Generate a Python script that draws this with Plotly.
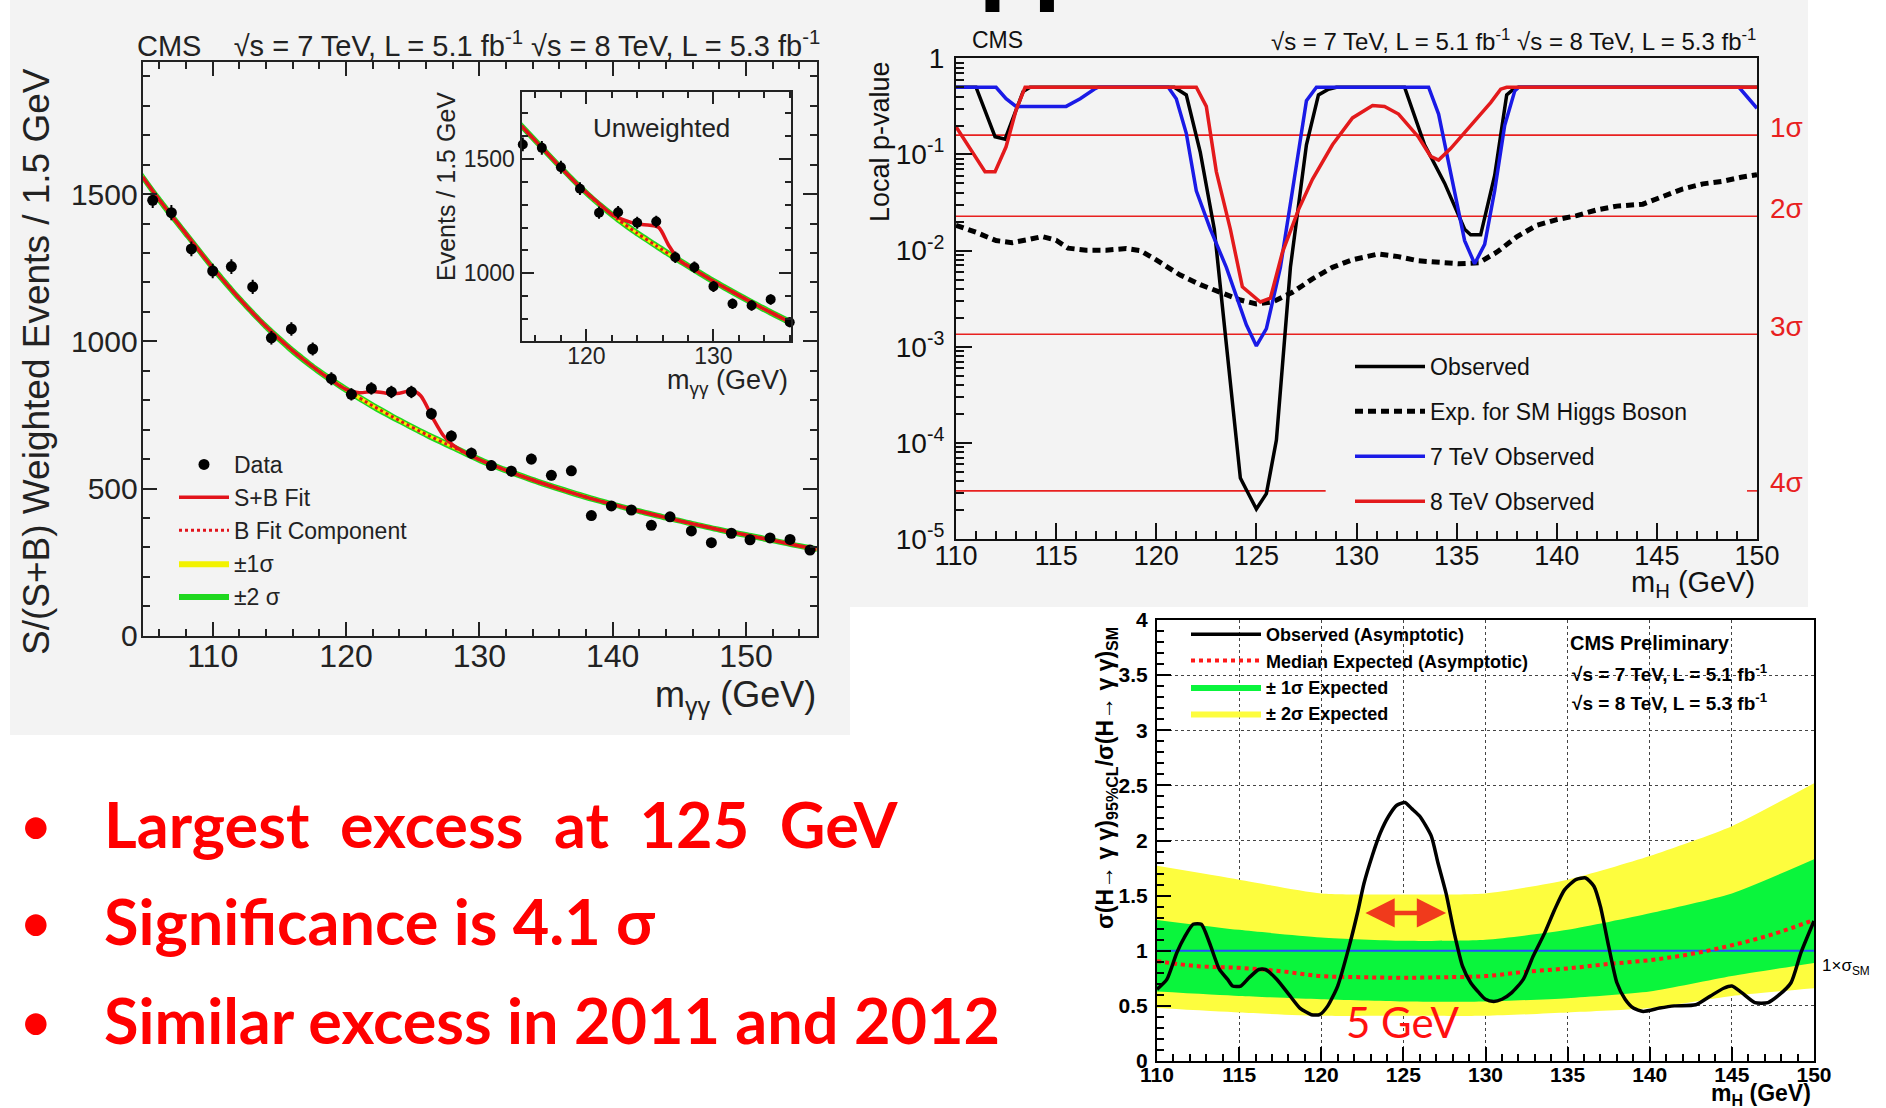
import math
import plotly.graph_objects as go

W, H = 1886, 1108
def fx(v): return v / W
def fy(v): return 1 - v / H

SANS = "Liberation Sans, Arial, Helvetica, sans-serif"
SLIDE = "Lato, Calibri, sans-serif"

# ---------------- Panel A: S/(S+B) weighted diphoton mass ----------------
mass_w = [105.5, 106.9, 108.4, 110.0, 111.4, 113.0, 114.4, 115.9, 117.5, 118.9, 120.4, 121.9,
          123.4, 124.9, 126.4, 127.9, 129.4, 130.9, 132.4, 133.9, 135.4, 136.9, 138.4, 139.9,
          141.4, 142.9, 144.3, 145.9, 147.4, 148.9, 150.3, 151.8, 153.3, 154.8]
events_w = [1479, 1437, 1314, 1239, 1254, 1185, 1012, 1042, 974, 873, 820, 840,
            828, 828, 754, 678, 620, 578, 559, 600, 545, 560, 408, 441,
            427, 375, 404, 356, 316, 348, 326, 332, 327, 291]
events_w_err = [26, 26, 25, 25, 25, 24, 23, 23, 22, 22, 21, 21, 21, 21, 20, 19, 19,
                18, 18, 18, 17, 17, 16, 16, 16, 15, 15, 15, 14, 14, 14, 14, 14, 13]
fit_b_mass = [104.75, 106, 108, 110, 112, 114, 116, 118, 120, 122, 124, 126, 128, 130,
              132, 134, 136, 138, 140, 142, 144, 146, 148, 150, 152, 154, 155.3]
fit_b = [1558, 1480, 1365, 1250, 1145, 1050, 968, 897, 836, 781, 731, 684, 641, 598,
         562, 529, 499, 471, 446, 423, 401, 380, 360, 342, 324, 305, 294]
fit_b_err1 = [8, 8, 8, 8, 7, 7, 7, 7, 7, 7, 6, 6, 6, 6, 6, 6, 6, 6, 5, 5, 5, 5, 5, 5, 5, 5, 5]
fit_b_err2 = [16, 16, 15, 15, 14, 14, 14, 13, 13, 13, 12, 12, 12, 12, 11, 11, 11, 11, 10, 10,
              10, 10, 10, 10, 10, 10, 10]
fit_sb_mass = [104.75, 106, 108, 110, 112, 114, 116, 118, 120, 121, 122, 123, 124, 125, 125.6,
               126.5, 127.3, 128, 129, 130, 132, 134, 136, 138, 140, 142, 144, 146, 148, 150,
               152, 154, 155.3]
fit_sb = [1558, 1480, 1365, 1250, 1145, 1050, 968, 897, 837, 825, 830, 824, 824, 833, 815,
          740, 680, 648, 620, 598, 562, 529, 499, 471, 446, 423, 401, 380, 360, 342,
          324, 305, 294]

# ---------------- Panel A inset: unweighted ----------------
mass_u = [115, 116.5, 118, 119.5, 121, 122.5, 124, 125.5, 127, 128.5, 130, 131.5, 133, 134.5, 136]
events_u = [1564, 1549, 1464, 1370, 1265, 1267, 1221, 1226, 1070, 1026, 942, 866, 858, 885, 785]
events_u_err = [30, 30, 29, 28, 27, 27, 26, 26, 25, 25, 24, 23, 23, 23, 22]
fit_bu_mass = [114.9, 116.5, 118, 119.5, 121, 122.5, 124, 125.5, 127, 128.5, 130, 131.5, 133, 134.5, 136.1]
fit_bu = [1645, 1550, 1462, 1378, 1302, 1235, 1175, 1120, 1066, 1015, 965, 918, 872, 828, 783]
fit_bu_err1 = [9, 9, 9, 8, 8, 8, 8, 8, 8, 8, 8, 8, 8, 8, 8]
fit_bu_err2 = [18, 18, 17, 17, 16, 16, 16, 16, 16, 16, 16, 16, 16, 16, 16]
fit_sbu_mass = [114.9, 116.5, 118, 119.5, 121, 122, 123, 124, 125, 125.7, 126.5, 127.3, 128.5,
                130, 131.5, 133, 134.5, 136.1]
fit_sbu = [1645, 1550, 1462, 1378, 1305, 1258, 1232, 1215, 1210, 1200, 1120, 1058, 1015,
           965, 918, 872, 828, 783]

# ---------------- Panel B: local p-value ----------------
mh_range = [110, 150]
obs_mh = [110, 111.0, 111.95, 112.45, 113.35, 113.7, 120.9, 121.5, 122.2, 122.9, 123.5, 124.2,
          124.5, 125.0, 125.5, 126.0, 126.7, 127.5, 128.1, 128.6, 129.0, 132.4, 133.4, 134.4,
          135.4, 135.7, 136.2, 136.9, 137.5, 137.9, 138.1, 150]
obs_p = [0.5, 0.5, 0.153, 0.144, 0.45, 0.5, 0.5, 0.416, 0.105, 0.0167, 1.06e-3, 4.3e-5,
         3.25e-5, 2.05e-5, 2.96e-5, 1.07e-4, 6.7e-3, 0.126, 0.416, 0.477, 0.5, 0.5, 0.126, 0.0503,
         0.0167, 0.0146, 0.0146, 0.0605, 0.416, 0.49, 0.5, 0.5]
exp_mh = [110, 111, 112, 112.8, 113.6, 114.3, 115.0, 115.6, 116.5, 117.5, 118.5, 119.2, 120.0,
          121.2, 122.2, 123.2, 124.2, 125.0, 125.8, 126.8, 127.8, 128.8, 129.8, 131.1, 132.1,
          133.1, 134.1, 135.1, 136.1, 137.0, 138.0, 139.0, 140.0, 141.0, 142.0, 143.0, 144.3,
          145.3, 146.3, 147.3, 148.3, 149.2, 150]
exp_p = [0.0183, 0.0155, 0.0127, 0.0121, 0.0130, 0.0140, 0.0128, 0.0106, 0.0101, 0.0101, 0.0105,
         0.0100, 0.0080, 0.00556, 0.00442, 0.00368, 0.00306, 0.00279, 0.00292, 0.00368, 0.00507,
         0.0067, 0.00803, 0.00922, 0.00865, 0.00782, 0.00746, 0.0073, 0.00746, 0.0096, 0.0139,
         0.0183, 0.021, 0.0231, 0.0265, 0.029, 0.0304, 0.0365, 0.0439, 0.0494, 0.0527, 0.0578,
         0.0617]
obs7_mh = [110, 112.0, 112.5, 113.0, 115.5, 116.2, 116.9, 117.1, 120.6, 121.0, 121.5, 122.0,
           122.7, 123.5, 124.5, 125.0, 125.5, 126.2, 126.8, 127.5, 128.0, 133.6, 134.1, 134.7,
           135.4, 135.9, 136.4, 136.9, 137.4, 137.9, 138.1, 149.1, 150]
obs7_p = [0.5, 0.5, 0.38, 0.316, 0.316, 0.38, 0.477, 0.5, 0.5, 0.38, 0.166, 0.0419, 0.0167,
          6.7e-3, 1.69e-3, 1.02e-3, 1.54e-3, 6.7e-3, 0.0419, 0.362, 0.5, 0.5, 0.263, 0.0664,
          0.0127, 7.3e-3, 0.0116, 0.0419, 0.2, 0.456, 0.5, 0.5, 0.302]
obs8_mh = [110, 111.45, 111.95, 112.5, 113.0, 113.45, 122.0, 122.5, 123.0, 123.7, 124.3, 125.2,
           125.7, 126.3, 127.1, 127.8, 128.8, 129.8, 130.8, 131.4, 132.1, 133.1, 133.7, 134.1,
           134.7, 135.7, 136.7, 137.2, 137.5, 150]
obs8_p = [0.194, 0.066, 0.066, 0.12, 0.29, 0.5, 0.5, 0.316, 0.0664, 0.0167, 4.2e-3, 2.92e-3,
          3.2e-3, 9.6e-3, 0.0265, 0.0552, 0.126, 0.24, 0.322, 0.316, 0.263, 0.151, 0.0957,
          0.0873, 0.115, 0.2, 0.346, 0.477, 0.5, 0.5]
sigma_p = [0.1587, 0.02275, 0.00135, 3.167e-5]
sigma_names = ["1σ", "2σ", "3σ", "4σ"]
sigma4_gap = [128.46, 149.5]

# ---------------- Panel C: 95% CL limit ----------------
lim_mh = [110, 110.6, 111.2, 111.7, 112.2, 112.7, 113.2, 113.8, 114.3, 114.6, 115.1, 115.6,
          116.2, 116.6, 117.3, 118.1, 118.7, 119.4, 119.9, 120.4, 121.0, 121.7, 122.2, 122.6,
          123.1, 123.6, 124.1, 124.6, 125.1, 125.5, 126.0, 126.7, 127.1, 127.6, 128.1, 128.6,
          129.1, 129.6, 130.0, 130.5, 131.0, 131.6, 132.3, 132.9, 133.6, 134.2, 134.8, 135.5,
          136.1, 136.6, 137.0, 137.5, 138.0, 138.5, 139.0, 139.6, 140.6, 141.5, 142.8, 143.7,
          144.5, 145.0, 145.6, 146.4, 147.2, 147.8, 148.6, 149.2, 150]
lim_obs = [0.65, 0.74, 0.98, 1.13, 1.24, 1.24, 1.07, 0.83, 0.74, 0.68, 0.68, 0.755,
           0.83, 0.83, 0.74, 0.59, 0.48, 0.42, 0.42, 0.50, 0.68, 1.04, 1.34, 1.61,
           1.86, 2.07, 2.22, 2.32, 2.345, 2.29, 2.22, 2.04, 1.80, 1.52, 1.16, 0.86,
           0.71, 0.62, 0.56, 0.54, 0.56, 0.62, 0.74, 0.95, 1.16, 1.37, 1.55, 1.645,
           1.66, 1.585, 1.40, 1.04, 0.71, 0.56, 0.48, 0.45, 0.48, 0.50, 0.51, 0.59,
           0.66, 0.68, 0.62, 0.53, 0.53, 0.59, 0.71, 0.98, 1.27]
lim_exp_mh = [110, 112.5, 115, 117.5, 120, 122.5, 125, 127.5, 130, 132.5, 135, 137.5, 140,
              142.5, 145, 147.5, 150]
lim_exp = [0.905, 0.86, 0.845, 0.815, 0.77, 0.76, 0.755, 0.76, 0.77, 0.81, 0.84, 0.88, 0.915,
           0.97, 1.05, 1.15, 1.28]
band_mh = [110, 115, 120, 125, 130, 135, 140, 145, 150]
band1_hi = [1.28, 1.19, 1.12, 1.09, 1.10, 1.19, 1.34, 1.52, 1.83]
band1_lo = [0.63, 0.59, 0.56, 0.54, 0.54, 0.57, 0.63, 0.77, 0.89]
band2_hi = [1.77, 1.645, 1.52, 1.51, 1.52, 1.645, 1.86, 2.13, 2.52]
band2_lo = [0.48, 0.44, 0.41, 0.41, 0.41, 0.44, 0.48, 0.59, 0.66]
sm_ref = 1.0
fwhm_arrow = [122.6, 127.6]
fwhm_level = 1.343
fwhm_label = [125.0, 0.357]

bullets = ["Largest\u00a0 excess\u00a0 at\u00a0 125\u00a0 GeV",
           "Significance is 4.1 σ",
           "Similar excess in 2011 and 2012"]

fig = go.Figure()

def add_band(x, lo, hi, color, name, legend, rank, xa, ya, show=True, smooth=0.6, group=None):
    fig.add_trace(go.Scatter(x=x, y=lo, mode="lines", line=dict(width=0, shape="spline", smoothing=smooth),
                             showlegend=False, hoverinfo="skip", xaxis=xa, yaxis=ya))
    fig.add_trace(go.Scatter(x=x, y=hi, mode="lines", line=dict(width=0, shape="spline", smoothing=smooth),
                             fill="tonexty", fillcolor=color, name=name, legend=legend, legendrank=rank,
                             legendgroup=group, showlegend=show, hoverinfo="skip", xaxis=xa, yaxis=ya))

def pm(center, err, s):
    return [c + s * e for c, e in zip(center, err)]

GREEN_A, YELLOW_A, RED_A = "#1fd81f", "#f2f200", "#e2131b"

# ---- Panel A traces ----
add_band(fit_b_mass, pm(fit_b, fit_b_err2, -1), pm(fit_b, fit_b_err2, 1), GREEN_A, "±2 σ", "legend", 5, "x", "y")
add_band(fit_b_mass, pm(fit_b, fit_b_err1, -1), pm(fit_b, fit_b_err1, 1), YELLOW_A, "±1σ", "legend", 4, "x", "y")
fig.add_trace(go.Scatter(x=fit_b_mass, y=fit_b, mode="lines", name="B Fit Component",
                         line=dict(color=RED_A, width=3, dash="dot", shape="spline", smoothing=0.6),
                         legend="legend", legendrank=3, xaxis="x", yaxis="y"))
fig.add_trace(go.Scatter(x=fit_sb_mass, y=fit_sb, mode="lines", name="S+B Fit",
                         line=dict(color=RED_A, width=3.5, shape="spline", smoothing=0.8),
                         legend="legend", legendrank=2, xaxis="x", yaxis="y"))
fig.add_trace(go.Scatter(x=mass_w, y=events_w, mode="markers", name="Data",
                         marker=dict(color="black", size=11),
                         error_y=dict(type="data", array=events_w_err, color="black", thickness=2, width=0),
                         legend="legend", legendrank=1, cliponaxis=False, xaxis="x", yaxis="y"))

# ---- Inset traces ----
add_band(fit_bu_mass, pm(fit_bu, fit_bu_err2, -1), pm(fit_bu, fit_bu_err2, 1), GREEN_A, "", "legend", 9, "x2", "y2", show=False)
add_band(fit_bu_mass, pm(fit_bu, fit_bu_err1, -1), pm(fit_bu, fit_bu_err1, 1), YELLOW_A, "", "legend", 9, "x2", "y2", show=False)
fig.add_trace(go.Scatter(x=fit_bu_mass, y=fit_bu, mode="lines", showlegend=False,
                         line=dict(color=RED_A, width=3, dash="dot", shape="spline", smoothing=0.6),
                         xaxis="x2", yaxis="y2"))
fig.add_trace(go.Scatter(x=fit_sbu_mass, y=fit_sbu, mode="lines", showlegend=False,
                         line=dict(color=RED_A, width=3.5, shape="spline", smoothing=0.8),
                         xaxis="x2", yaxis="y2"))
fig.add_trace(go.Scatter(x=mass_u, y=events_u, mode="markers", showlegend=False,
                         marker=dict(color="black", size=10),
                         error_y=dict(type="data", array=events_u_err, color="black", thickness=2, width=0),
                         cliponaxis=False, xaxis="x2", yaxis="y2"))

# ---- Panel B traces ----
SIG_RED = "#e8201f"
for p in sigma_p[:3]:
    fig.add_trace(go.Scatter(x=mh_range, y=[p, p], mode="lines", showlegend=False,
                             line=dict(color=SIG_RED, width=1.6), xaxis="x3", yaxis="y3"))
p4 = sigma_p[3]
fig.add_trace(go.Scatter(x=[mh_range[0], sigma4_gap[0], None, sigma4_gap[1], mh_range[1]],
                         y=[p4, p4, None, p4, p4], mode="lines", showlegend=False,
                         line=dict(color=SIG_RED, width=1.6), xaxis="x3", yaxis="y3"))
fig.add_trace(go.Scatter(x=exp_mh, y=exp_p, mode="lines", name="Exp. for SM Higgs Boson",
                         line=dict(color="black", width=5, dash="8px,5px"),
                         legend="legend2", legendgroup="e", legendrank=2, xaxis="x3", yaxis="y3"))
fig.add_trace(go.Scatter(x=obs_mh, y=obs_p, mode="lines", name="Observed",
                         line=dict(color="black", width=3.5),
                         legend="legend2", legendgroup="o", legendrank=1, xaxis="x3", yaxis="y3"))
fig.add_trace(go.Scatter(x=obs7_mh, y=obs7_p, mode="lines", name="7 TeV Observed",
                         line=dict(color="#1a1ae6", width=3.5),
                         legend="legend2", legendgroup="b", legendrank=3, xaxis="x3", yaxis="y3"))
fig.add_trace(go.Scatter(x=obs8_mh, y=obs8_p, mode="lines", name="8 TeV Observed",
                         line=dict(color="#e31a1c", width=3.5),
                         legend="legend2", legendgroup="r", legendrank=4, xaxis="x3", yaxis="y3"))

# ---- Panel C traces ----
add_band(band_mh, band2_lo, band2_hi, "#fdfd3e", "± 2σ Expected", "legend3", 4, "x4", "y4", group="g2")
add_band(band_mh, band1_lo, band1_hi, "#0af53c", "± 1σ Expected", "legend3", 3, "x4", "y4", group="g1")
fig.add_trace(go.Scatter(x=mh_range, y=[sm_ref, sm_ref], mode="lines", showlegend=False,
                         line=dict(color="#2250ff", width=2), xaxis="x4", yaxis="y4"))
fig.add_trace(go.Scatter(x=lim_exp_mh, y=lim_exp, mode="lines", name="Median Expected (Asymptotic)",
                         line=dict(color="#ff1a1a", width=4, dash="dot", shape="spline"),
                         legend="legend3", legendgroup="m", legendrank=2, xaxis="x4", yaxis="y4"))
fig.add_trace(go.Scatter(x=lim_mh, y=lim_obs, mode="lines", name="Observed (Asymptotic)",
                         line=dict(color="black", width=3.5, shape="spline", smoothing=0.6),
                         legend="legend3", legendgroup="ob", legendrank=1, xaxis="x4", yaxis="y4"))

# ---------------- axes ----------------
def frame_axis(**kw):
    base = dict(showgrid=False, zeroline=False, showline=True, ticks="inside", automargin=False,
                linecolor="#222", tickcolor="#222", linewidth=2, tickwidth=2)
    base.update(kw)
    return base

tickA = dict(family=SANS, size=32, color="#222")
tickAy = dict(family=SANS, size=30, color="#222")
tickI = dict(family=SANS, size=23, color="#222")
tickB = dict(family=SANS, size=27, color="#111")
tickC = dict(family=SANS, size=21, color="black", weight="bold")

log_minor = [m * 10 ** e for e in range(-5, 0) for m in range(2, 10)]

fig.update_layout(
    xaxis=frame_axis(domain=[fx(142.7), fx(816.7)], range=[104.75, 155.3], anchor="y",
                     tick0=110, dtick=10, ticklen=14, mirror="ticks", tickfont=tickA, ticklabelstandoff=-9,
                     minor=dict(ticks="inside", ticklen=7, tickwidth=1.5, tickcolor="#222", dtick=2, tick0=110)),
    yaxis=frame_axis(domain=[fy(635.7), fy(61.7)], range=[0, 1950], anchor="x",
                     tick0=0, dtick=500, ticklen=14, mirror="ticks", tickfont=tickAy, ticklabelstandoff=-3,
                     minor=dict(ticks="inside", ticklen=7, tickwidth=1.5, tickcolor="#222", dtick=100, tick0=0)),
    xaxis2=frame_axis(domain=[fx(521.5), fx(791)], range=[114.9, 136.1], anchor="y2",
                      tick0=120, dtick=10, ticklen=12, mirror="ticks", tickfont=tickI, ticklabelstandoff=-6,
                      minor=dict(ticks="inside", ticklen=6, tickwidth=1.5, tickcolor="#222", dtick=2, tick0=120)),
    yaxis2=frame_axis(domain=[fy(340.5), fy(91.7)], range=[705, 1795], anchor="x2",
                      tick0=0, dtick=500, ticklen=12, mirror="ticks", tickfont=tickI, ticklabelstandoff=0,
                      minor=dict(ticks="inside", ticklen=6, tickwidth=1.5, tickcolor="#222", dtick=100, tick0=0)),
    xaxis3=frame_axis(domain=[fx(956), fx(1757)], range=mh_range, anchor="y3",
                      tick0=110, dtick=5, ticklen=16, mirror=True, tickfont=tickB, linecolor="#111", tickcolor="#111",
                      ticklabelstandoff=-8,
                      minor=dict(ticks="inside", ticklen=8, tickwidth=1.5, tickcolor="#111", dtick=1, tick0=110)),
    yaxis3=frame_axis(domain=[fy(539), fy(58.3)], type="log", range=[-5, 0], anchor="x3",
                      tickmode="array", tickvals=[1e-5, 1e-4, 1e-3, 1e-2, 1e-1, 1],
                      ticktext=["10<sup>-5</sup>", "10<sup>-4</sup>", "10<sup>-3</sup>", "10<sup>-2</sup>",
                                "10<sup>-1</sup>", "1"],
                      ticklen=16, mirror=True, tickfont=dict(family=SANS, size=28, color="#111"),
                      ticklabelstandoff=4, linecolor="#111", tickcolor="#111",
                      minor=dict(ticks="inside", ticklen=8, tickwidth=1.5, tickcolor="#111", tickvals=log_minor)),
    xaxis4=frame_axis(domain=[fx(1157), fx(1814)], range=mh_range, anchor="y4",
                      tick0=110, dtick=5, ticklen=14, mirror=True, tickfont=tickC, linecolor="black", tickcolor="black",
                      showgrid=True, gridcolor="#444", griddash="dot", gridwidth=1, ticklabelstandoff=-6,
                      minor=dict(ticks="inside", ticklen=7, tickwidth=1.5, tickcolor="black", dtick=1, tick0=110)),
    yaxis4=frame_axis(domain=[fy(1061), fy(620)], range=[0, 4], anchor="x4",
                      tick0=0, dtick=0.5, ticklen=14, mirror=True, tickfont=tickC, ticklabelstandoff=3,
                      linecolor="black", tickcolor="black",
                      showgrid=True, gridcolor="#444", griddash="dot", gridwidth=1,
                      minor=dict(ticks="inside", ticklen=7, tickwidth=1.5, tickcolor="black", dtick=0.1, tick0=0)),
)

fig.update_layout(
    legend=dict(x=fx(174), y=fy(443), xanchor="left", yanchor="top", bgcolor="rgba(0,0,0,0)",
                font=dict(family=SANS, size=23, color="#222"), itemwidth=50, traceorder="normal"),
    legend2=dict(x=fx(1350), y=fy(345), xanchor="left", yanchor="top", bgcolor="rgba(0,0,0,0)",
                 font=dict(family=SANS, size=23, color="#111"), itemwidth=70, traceorder="grouped",
                 tracegroupgap=12),
    legend3=dict(x=fx(1186), y=fy(616), xanchor="left", yanchor="top", bgcolor="rgba(0,0,0,0)",
                 font=dict(family=SANS, size=18, color="black", weight="bold"), itemwidth=70,
                 traceorder="grouped", tracegroupgap=0),
)

# ---------------- backgrounds ----------------
shapes = [
    dict(type="rect", xref="paper", yref="paper", x0=fx(10), x1=fx(1808), y0=fy(607), y1=fy(0),
         fillcolor="#f3f3f3", line=dict(width=0), layer="below"),
    dict(type="rect", xref="paper", yref="paper", x0=fx(10), x1=fx(850), y0=fy(735), y1=fy(607),
         fillcolor="#f3f3f3", line=dict(width=0), layer="below"),
]

# ---------------- annotations ----------------
ann = []
def txt(x, y, text, size, family=SANS, color="#222", xanchor="center", yanchor="middle", angle=0, weight="normal", **kw):
    d = dict(x=fx(x), y=fy(y), xref="paper", yref="paper", text=text, showarrow=False,
             xanchor=xanchor, yanchor=yanchor, textangle=angle,
             font=dict(family=family, size=size, color=color, weight=weight))
    d.update(kw)
    ann.append(d)

# panel A
txt(135, 44, "CMS\u00a0\u00a0\u00a0 √s = 7 TeV, L = 5.1 fb<sup>-1</sup> √s = 8 TeV, L = 5.3 fb<sup>-1</sup>", 29, xanchor="left")
txt(36, 362, "S/(S+B) Weighted Events / 1.5 GeV", 37, angle=-90)
txt(818, 697, "m<sub>γγ</sub> (GeV)", 36, xanchor="right")
txt(661, 128, "Unweighted", 26)
txt(446, 187, "Events / 1.5 GeV", 25, angle=-90)
txt(790, 382, "m<sub>γγ</sub> (GeV)", 27, xanchor="right")

# panel B
txt(998, 40, "CMS", 23, color="#111")
txt(1758, 40, "√s = 7 TeV, L = 5.1 fb<sup>-1</sup> √s = 8 TeV, L = 5.3 fb<sup>-1</sup>", 24, color="#111", xanchor="right")
txt(880, 142, "Local p-value", 27, color="#111", angle=-90)
txt(1757, 584, "m<sub>H</sub> (GeV)", 29, color="#111", xanchor="right")
for p, name in zip(sigma_p, sigma_names):
    ann.append(dict(x=fx(1786), xref="paper", y=math.log10(p), yref="y3", yshift=8, text=name,
                    showarrow=False, xanchor="center", yanchor="middle",
                    font=dict(family=SANS, size=28, color=SIG_RED)))

# panel C
txt(1106, 778, "σ(H→ γ γ)<sub>95%CL</sub>/σ(H→ γ γ)<sub>SM</sub>", 23, color="black", angle=-90, weight="bold")
txt(1813, 1094, "m<sub>H</sub> (GeV)", 23, color="black", xanchor="right", weight="bold")
txt(1568, 643, "CMS Preliminary", 20, color="black", xanchor="left", weight="bold")
txt(1570, 673, "√s = 7 TeV, L = 5.1 fb<sup>-1</sup>", 19, color="black", xanchor="left", weight="bold")
txt(1570, 702, "√s = 8 TeV, L = 5.3 fb<sup>-1</sup>", 19, color="black", xanchor="left", weight="bold")
txt(1820, 967, "1×σ<sub>SM</sub>", 17, color="black", xanchor="left")
ann.append(dict(x=fwhm_arrow[1], y=fwhm_level, ax=fwhm_arrow[0], ay=fwhm_level,
                xref="x4", yref="y4", axref="x4", ayref="y4", text="", showarrow=True,
                arrowhead=2, startarrowhead=2, arrowside="end+start", arrowwidth=4.5,
                arrowsize=1.3, startarrowsize=1.3, arrowcolor="#f03a1c", standoff=0, startstandoff=0))
ann.append(dict(x=fwhm_label[0], y=fwhm_label[1], xref="x4", yref="y4", text="5 GeV", showarrow=False,
                xanchor="center", yanchor="middle", font=dict(family=SLIDE, size=42, color="#ff1010")))

# slide text
for line, yc in zip(bullets, [823, 920, 1019]):
    txt(36, yc, "•", 58, family=SLIDE, color="#ff0000")
    txt(102, yc, line, 63, family=SLIDE, color="#ff0000", xanchor="left", weight="bold")

# clipped slide title fragment at the very top
txt(1018, 16, "γγ", 80, family="DejaVu Sans", color="black", yanchor="bottom", weight="bold")

fig.update_layout(
    width=W, height=H, margin=dict(l=0, r=0, t=0, b=0, pad=0, autoexpand=False),
    paper_bgcolor="white", plot_bgcolor="rgba(0,0,0,0)",
    shapes=shapes, annotations=ann, hovermode=False,
)

fig.write_html("out.html")
